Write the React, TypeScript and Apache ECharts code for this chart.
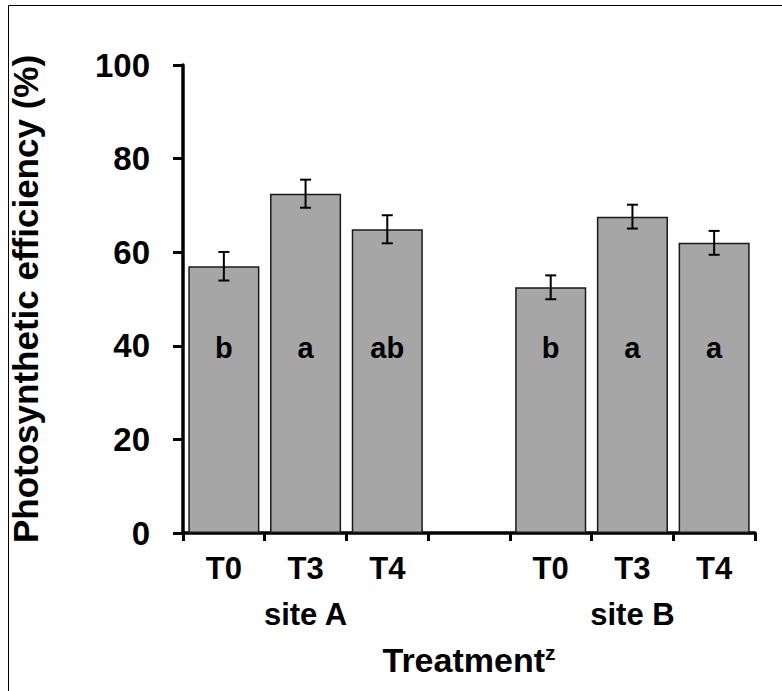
import React, { useEffect, useRef } from "react";
import * as echarts from "echarts";

const categories = ["T0", "T3", "T4", "", "T0", "T3", "T4"];
const groupLabels = ["", "site A", "", "", "", "site B", ""];
const means: (number | null)[] = [57.0, 72.5, 64.9, null, 52.5, 67.6, 62.0];
const errors: (number | null)[] = [3.05, 3.0, 3.0, null, 2.55, 2.55, 2.55];
const letters = ["b", "a", "ab", "", "b", "a", "a"];
const yMin = 0;
const yMax = 100;
const yInterval = 20;

const FONT = "'Liberation Sans', Arial, Helvetica, sans-serif";

export default function App() {
  const ref = useRef<HTMLDivElement>(null);

  useEffect(() => {
    document.body.style.margin = "0";
    if (!ref.current) return;
    const chart = echarts.init(ref.current, undefined, { renderer: "svg" });

    const errData = means
      .map((m, i) => (m == null ? null : [i, m, errors[i] as number]))
      .filter((d) => d !== null);

    const option: any = {
      animation: false,
      backgroundColor: "#fff",
      textStyle: { fontFamily: FONT },
      graphic: [
        {
          type: "rect",
          silent: true,
          shape: { x: 8.5, y: 5.5, width: 790, height: 720 },
          style: { fill: "none", stroke: "#000", lineWidth: 1 },
        },
      ],
      grid: { left: 180, right: 27, top: 65, bottom: 158, containLabel: false },
      xAxis: [
        {
          type: "category",
          data: categories,
          position: "bottom",
          axisLine: { show: true, lineStyle: { color: "#000", width: 3.5 } },
          axisTick: { show: true, length: 8, lineStyle: { color: "#000", width: 3 } },
          axisLabel: {
            interval: 0,
            margin: 20,
            fontSize: 31,
            fontWeight: "bold",
            color: "#000",
            fontFamily: FONT,
          },
          splitLine: { show: false },
          name: "Treatment{sup|z}",
          nameLocation: "middle",
          nameGap: 109,
          nameTextStyle: {
            fontSize: 34,
            fontWeight: "bold",
            color: "#000",
            fontFamily: FONT,
            lineHeight: 36,
            rich: {
              sup: {
                fontSize: 21,
                fontWeight: "bold",
                color: "#000",
                fontFamily: FONT,
                verticalAlign: "top",
                lineHeight: 22,
              },
            },
          },
        },
        {
          type: "category",
          data: groupLabels,
          position: "bottom",
          offset: 46,
          axisLine: { show: false },
          axisTick: { show: false },
          axisLabel: {
            interval: 0,
            margin: 20,
            fontSize: 31,
            fontWeight: "bold",
            color: "#000",
            fontFamily: FONT,
          },
          splitLine: { show: false },
        },
      ],
      yAxis: {
        type: "value",
        min: yMin,
        max: yMax,
        interval: yInterval,
        axisLine: { show: true, lineStyle: { color: "#000", width: 3.5 } },
        axisTick: { show: true, length: 10, lineStyle: { color: "#000", width: 3 } },
        splitLine: { show: false },
        axisLabel: {
          margin: 33,
          fontSize: 33,
          fontWeight: "bold",
          color: "#000",
          fontFamily: FONT,
        },
        name: "Photosynthetic efficiency (%)",
        nameLocation: "middle",
        nameRotate: 90,
        nameGap: 140,
        nameTextStyle: {
          fontSize: 35,
          fontWeight: "bold",
          color: "#000",
          fontFamily: FONT,
        },
      },
      series: [
        {
          type: "bar",
          xAxisIndex: 0,
          data: means,
          barCategoryGap: "13%",
          itemStyle: { color: "#a6a6a6", borderColor: "#1a1a1a", borderWidth: 1.5 },
          label: {
            show: true,
            position: "insideBottom",
            distance: 171,
            formatter: (p: any) => letters[p.dataIndex] || "",
            fontSize: 29,
            fontWeight: "bold",
            color: "#000",
            fontFamily: FONT,
          },
        },
        {
          type: "custom",
          xAxisIndex: 0,
          data: errData,
          encode: { x: 0, y: [1] },
          z: 10,
          renderItem: (params: any, api: any) => {
            const x = api.value(0);
            const m = api.value(1);
            const e = api.value(2);
            const top = api.coord([x, m + e]);
            const bot = api.coord([x, m - e]);
            const hw = 5.5;
            const style = { stroke: "#000", lineWidth: 2 };
            return {
              type: "group",
              children: [
                { type: "line", shape: { x1: top[0], y1: top[1], x2: bot[0], y2: bot[1] }, style },
                { type: "line", shape: { x1: top[0] - hw, y1: top[1], x2: top[0] + hw, y2: top[1] }, style },
                { type: "line", shape: { x1: bot[0] - hw, y1: bot[1], x2: bot[0] + hw, y2: bot[1] }, style },
              ],
            };
          },
        },
      ],
    };

    chart.setOption(option);
    return () => chart.dispose();
  }, []);

  return <div ref={ref} style={{ width: 782, height: 691 }} />;
}
